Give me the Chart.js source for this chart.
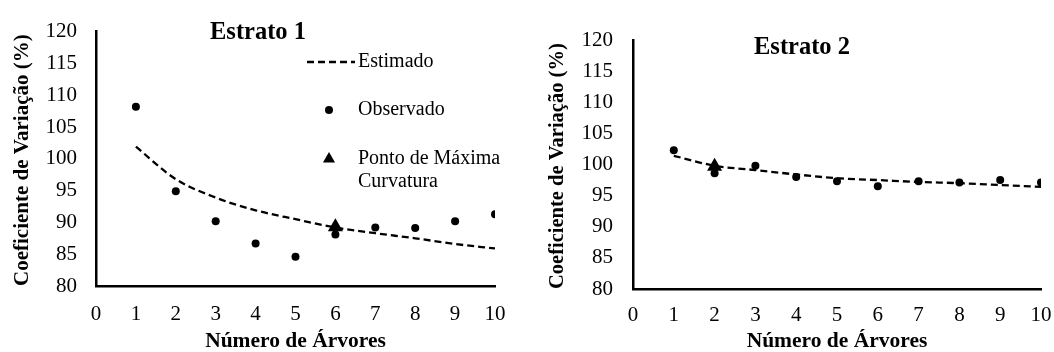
<!DOCTYPE html>
<html><head><meta charset="utf-8">
<script src="https://cdn.jsdelivr.net/npm/chart.js@4"></script>
<style>
html,body{margin:0;padding:0;background:#fff;}
#wrap{position:relative;width:1054px;height:352px;overflow:hidden;}
.c{position:absolute;top:0;width:527px;height:352px;}
canvas{display:block;}
</style></head><body>
<div id="wrap">
<div class="c" style="left:0"><canvas id="c1" width="527" height="352"></canvas></div>
<div class="c" style="left:527px"><canvas id="c2" width="527" height="352"></canvas></div>
</div>
<script>
// ---- data ----
const xTicks = [0, 1, 2, 3, 4, 5, 6, 7, 8, 9, 10];
const yTicks = [80, 85, 90, 95, 100, 105, 110, 115, 120];
const arvores = [1, 2, 3, 4, 5, 6, 7, 8, 9, 10];
const est1Observado = [108.2, 94.9, 90.2, 86.7, 84.6, 88.1, 89.2, 89.1, 90.2, 91.3];
const est1Estimado  = [101.9, 96.8, 93.9, 91.9, 90.5, 89.2, 88.3, 87.5, 86.6, 85.9];
const est1Ponto = [{x: 6, y: 89.3}];
const est2Observado = [102.3, 98.6, 99.8, 98.0, 97.3, 96.5, 97.3, 97.1, 97.5, 97.1];
const est2Estimado  = [101.4, 99.8, 99.1, 98.4, 97.8, 97.5, 97.2, 97.0, 96.7, 96.4];
const est2Ponto = [{x: 2, y: 99.7}];
const legendLabels = ['Estimado', 'Observado', ['Ponto de Máxima', 'Curvatura']];
const yTitle = 'Coeficiente de Variação (%)';
const xTitle = 'Número de Árvores';

const SERIF = '"Liberation Serif", "Times New Roman", serif';

const overlay = {
  id: 'overlay',
  afterDraw(chart, args, o) {
    const ctx = chart.ctx;
    ctx.save();
    ctx.fillStyle = '#000';
    ctx.strokeStyle = '#000';
    ctx.textBaseline = 'middle';
    ctx.font = 'bold 24.5px ' + SERIF;
    ctx.textAlign = 'center';
    ctx.fillText(o.title, o.titleX, o.titleY);
    if (o.legend) {
      ctx.font = '20px ' + SERIF;
      ctx.textAlign = 'left';
      o.legend.forEach(item => {
        const ds = chart.data.datasets[item.ds];
        if (item.kind === 'line') {
          ctx.save();
          ctx.lineWidth = ds.borderWidth;
          ctx.setLineDash(ds.borderDash);
          ctx.beginPath();
          ctx.moveTo(item.mx - 22, item.y);
          ctx.lineTo(item.mx + 26, item.y);
          ctx.stroke();
          ctx.restore();
        } else {
          ctx.fillStyle = ds.backgroundColor;
          Chart.helpers.drawPoint(ctx, {pointStyle: ds.pointStyle, radius: item.r, rotation: 0, borderWidth: 0}, item.mx, item.y);
        }
        ctx.fillStyle = '#000';
        const lines = Array.isArray(item.text) ? item.text : [item.text];
        lines.forEach((t, k) => ctx.fillText(t, item.tx, item.y + k * 23));
      });
    }
    ctx.restore();
  }
};

function makeChart(id, cfg) {
  const pts = (vals) => arvores.map((x, i) => ({x, y: vals[i]}));
  return new Chart(document.getElementById(id), {
    type: 'scatter',
    data: {
      datasets: [
        {label: 'Ponto de Máxima Curvatura', data: cfg.ponto, pointStyle: 'triangle', pointRadius: 8.7,
         backgroundColor: '#000', borderWidth: 0},
        {label: 'Estimado', data: pts(cfg.est), showLine: true, borderColor: '#000', borderWidth: 2.3,
         borderDash: [7, 4], pointRadius: 0, fill: false, cubicInterpolationMode: 'monotone'},
        {label: 'Observado', data: pts(cfg.obs), pointStyle: 'circle', pointRadius: 4,
         backgroundColor: '#000', borderWidth: 0}
      ]
    },
    options: {
      responsive: false,
      animation: false,
      events: [],
      layout: {padding: {top: cfg.top, right: cfg.right, left: 0, bottom: 0}},
      plugins: {
        legend: {display: false},
        tooltip: {enabled: false},
        overlay: cfg.overlay
      },
      scales: {
        x: {
          type: 'linear', min: 0, max: 10,
          afterBuildTicks: (s) => { s.ticks = xTicks.map(v => ({value: v})); },
          afterFit: (s) => { s.height = cfg.xH; s.paddingRight = 0; s.paddingLeft = 0; },
          grid: {display: false, drawTicks: false},
          border: {display: true, color: '#000', width: 2.5},
          ticks: {autoSkip: false, maxRotation: 0, padding: cfg.xPad, color: '#000',
                  font: {family: SERIF, size: 21}},
          title: {display: true, text: xTitle, color: '#000',
                  font: {family: SERIF, size: 21.5, weight: 'bold', lineHeight: 1.0},
                  padding: {top: 0, bottom: 0}}
        },
        y: {
          type: 'linear', min: 80, max: 120,
          afterBuildTicks: (s) => { s.ticks = yTicks.map(v => ({value: v})); },
          afterFit: (s) => { s.width = cfg.yW; },
          grid: {display: false, drawTicks: false},
          border: {display: true, color: '#000', width: 2.5},
          ticks: {autoSkip: false, padding: cfg.yPad, color: '#000',
                  font: {family: SERIF, size: 21}},
          title: {display: true, text: yTitle, color: '#000', align: 'start',
                  font: {family: SERIF, size: cfg.yTitleSize, weight: 'bold', lineHeight: 1.2},
                  padding: {top: cfg.yTitlePad, bottom: 0}}
        }
      }
    },
    plugins: [overlay]
  });
}

makeChart('c1', {
  obs: est1Observado, est: est1Estimado, ponto: est1Ponto,
  top: 25, right: 32, xH: 66, yW: 96, xPad: 16, yPad: 19, yTitlePad: 10.4, yTitleSize: 21,
  overlay: {
    title: 'Estrato 1', titleX: 258, titleY: 33,
    legend: [
      {ds: 1, kind: 'line', mx: 329, tx: 358, y: 62, text: legendLabels[0]},
      {ds: 2, kind: 'point', r: 4, mx: 329, tx: 358, y: 110, text: legendLabels[1]},
      {ds: 0, kind: 'point', r: 7, mx: 329, tx: 358, y: 159, text: legendLabels[2]}
    ]
  }
});

makeChart('c2', {
  obs: est2Observado, est: est2Estimado, ponto: est2Ponto,
  top: 40, right: 13, xH: 63, yW: 106, xPad: 14, yPad: 20, yTitlePad: 18.7, yTitleSize: 20.5,
  overlay: {title: 'Estrato 2', titleX: 275, titleY: 48}
});
</script>
</body></html>
